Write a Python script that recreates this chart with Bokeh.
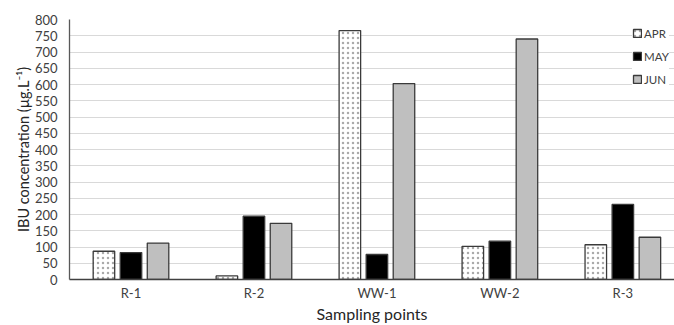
from bokeh.plotting import figure
from bokeh.models import Range1d, FixedTicker, Legend, LegendItem
from bokeh.embed import file_html
from bokeh.resources import INLINE

categories = ["R-1", "R-2", "WW-1", "WW-2", "R-3"]
months = ["APR", "MAY", "JUN"]
apr = [87, 11, 766, 102, 107]
may = [83, 195, 77, 118, 231]
jun = [112, 173, 603, 740, 130]
y_ticks = list(range(0, 801, 50))

FONT = "Lato"

p = figure(width=674, height=325, output_backend="svg", toolbar_location=None,
           x_range=Range1d(0, 4.92), y_range=Range1d(0, 800),
           min_border_left=69, min_border_right=0, min_border_top=19, min_border_bottom=0)
p.outline_line_color = None
p.background_fill_color = "white"

centers = [i + 0.5 for i in range(len(categories))]
offs = [-0.22, 0.0, 0.22]
w = 0.175
edge = "#3a3a3a"

r_apr = p.vbar(x=[c + offs[0] for c in centers], top=apr, width=w, bottom=0,
               fill_color="white", line_color=edge, line_width=1.3,
               hatch_pattern="dot", hatch_color="#aaaaaa", hatch_scale=5, hatch_weight=0.6)
r_may = p.vbar(x=[c + offs[1] for c in centers], top=may, width=w, bottom=0,
               fill_color="black", line_color=edge, line_width=1.3)
r_jun = p.vbar(x=[c + offs[2] for c in centers], top=jun, width=w, bottom=0,
               fill_color="#bfbfbf", line_color=edge, line_width=1.3)

# axes
p.yaxis.ticker = FixedTicker(ticks=y_ticks)
p.xaxis.ticker = FixedTicker(ticks=centers)
p.xaxis.major_label_overrides = {c: lab for c, lab in zip(centers, categories)}
for ax in (p.xaxis, p.yaxis):
    ax.major_tick_line_color = None
    ax.minor_tick_line_color = None
    ax.major_tick_out = 0
    ax.major_tick_in = 0
    ax.major_label_text_font = FONT
    ax.axis_label_text_font = FONT
    ax.axis_label_text_font_style = "normal"
    ax.major_label_text_color = "#404040"
    ax.axis_label_text_color = "#262626"

p.yaxis.axis_line_color = "#595959"
p.yaxis.axis_line_width = 1.3
p.xaxis.axis_line_color = "#404040"
p.xaxis.axis_line_width = 1.5
p.yaxis.major_label_text_font_size = "13px"
p.yaxis.major_label_standoff = 12
p.yaxis.axis_label = "IBU concentration (µg.L⁻¹)"
p.yaxis.axis_label_text_font_size = "14.5px"
p.yaxis.axis_label_standoff = 0
p.xaxis.major_label_text_font_size = "13px"
p.xaxis.major_label_standoff = 5
p.xaxis.axis_label = "Sampling points"
p.xaxis.axis_label_text_font_size = "16px"
p.xaxis.axis_label_standoff = 0

p.xgrid.grid_line_color = None
p.ygrid.grid_line_color = "#d9d9d9"
p.ygrid.grid_line_width = 1.2

legend = Legend(items=[LegendItem(label=m, renderers=[r]) for m, r in zip(months, [r_apr, r_may, r_jun])],
                location=(563, 190), orientation="vertical",
                glyph_width=10, glyph_height=10, label_height=20, spacing=3,
                padding=2, margin=0, label_standoff=2,
                label_text_font=FONT, label_text_font_size="11.5px", label_text_color="#404040",
                border_line_color=None, background_fill_color="white", background_fill_alpha=1.0)
p.add_layout(legend)

open("out.html", "w").write(file_html(p, INLINE))
